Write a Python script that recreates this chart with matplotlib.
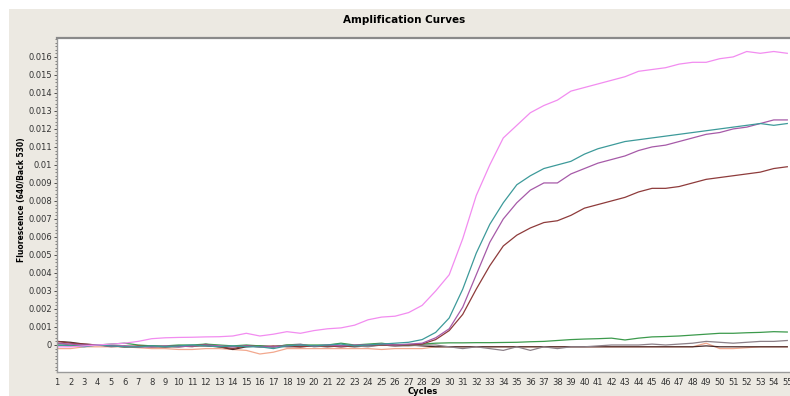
import matplotlib
matplotlib.use("Agg")
import matplotlib.pyplot as plt
from matplotlib.patches import Rectangle
from matplotlib.ticker import MultipleLocator, AutoMinorLocator, FuncFormatter

cycles = list(range(1, 56))
y_ticks = [i / 1000 for i in range(0, 17)]

pink = [-0.0001, -0.0001, -0.00005, 0.0, 0.00005, 0.0001, 0.0002, 0.00035, 0.0004, 0.00042,
        0.00043, 0.00045, 0.00046, 0.0005, 0.00065, 0.0005, 0.0006, 0.00074, 0.00065, 0.0008,
        0.0009, 0.00095, 0.0011, 0.0014, 0.00155, 0.0016, 0.0018, 0.0022, 0.003, 0.0039,
        0.0059, 0.0083, 0.0100, 0.0115, 0.0122, 0.0129, 0.0133, 0.0136, 0.0141, 0.0143,
        0.0145, 0.0147, 0.0149, 0.0152, 0.0153, 0.0154, 0.0156, 0.0157, 0.0157, 0.0159,
        0.0160, 0.0163, 0.0162, 0.0163, 0.0162]

teal = [0.0, -0.00005, -0.0001, 0.0, -0.00005, -0.0001, -0.0001, -0.00005, -0.0001, -0.00005,
        0.0, -0.00005, -0.0001, -0.00005, -0.0001, -0.0001, -0.0002, -0.00005, 0.0, -0.00005,
        0.0, 0.00005, -0.00005, 0.0, 0.00005, 0.0001, 0.00015, 0.0003, 0.0007, 0.0015,
        0.0031, 0.0051, 0.0067, 0.0079, 0.0089, 0.0094, 0.0098, 0.0100, 0.0102, 0.0106,
        0.0109, 0.0111, 0.0113, 0.0114, 0.0115, 0.0116, 0.0117, 0.0118, 0.0119, 0.0120,
        0.0121, 0.0122, 0.0123, 0.0122, 0.0123]

purple = [0.0001, 0.00005, 0.0, 0.0, -0.00005, -0.00005, -0.0001, -0.0001, -0.00005, -0.0001,
          -0.00005, 0.0, -0.00005, -0.0001, -0.00005, -0.0001, -0.0001, -0.00005, 0.0, -0.00005,
          0.0, -0.00005, 0.0, 0.0, 0.00005, 0.0, 0.00005, 0.0001, 0.0004, 0.0009,
          0.0021, 0.0039, 0.0057, 0.0070, 0.0079, 0.0086, 0.0090, 0.0090, 0.0095, 0.0098,
          0.0101, 0.0103, 0.0105, 0.0108, 0.0110, 0.0111, 0.0113, 0.0115, 0.0117, 0.0118,
          0.0120, 0.0121, 0.0123, 0.0125, 0.0125]

brown = [0.0002, 0.0001, 0.00005, 0.0, -0.00005, -0.0001, -0.00005, -0.0001, -0.0001, -0.00005,
         -0.00005, 0.0, -0.0001, -0.0002, -0.00005, -0.0001, -0.00005, -0.0001, -0.0001, -0.00005,
         -0.00005, -0.0001, -0.00005, 0.0, 0.0, 0.0, 0.0, 0.00005, 0.0003, 0.0008,
         0.0017, 0.0031, 0.0044, 0.0055, 0.0061, 0.0065, 0.0068, 0.0069, 0.0072, 0.0076,
         0.0078, 0.0080, 0.0082, 0.0085, 0.0087, 0.0087, 0.0088, 0.0090, 0.0092, 0.0093,
         0.0094, 0.0095, 0.0096, 0.0098, 0.0099]

green = [0.0, -0.00005, 0.0, 0.0, 0.00005, 0.0001, 0.0, -0.00005, -0.00005, 0.0,
         0.0, 0.00005, 0.0, -0.00005, 0.0, -0.00005, -0.0001, 0.0, 0.0, 0.0,
         0.0, 0.0001, 0.0, 0.00005, 0.0001, 0.0, 0.0, 0.00005, 0.0001, 0.00012,
         0.00012, 0.00013, 0.00013, 0.00014, 0.00015, 0.00018, 0.0002, 0.00025, 0.0003, 0.00033,
         0.00035, 0.00038, 0.00028, 0.00038, 0.00045, 0.00047, 0.0005, 0.00055, 0.0006, 0.00065,
         0.00065, 0.00068, 0.0007, 0.00074, 0.00072]

grey = [0.0001, 0.0, 0.0, 0.0, -0.0001, -0.00005, -0.0001, -0.0001, -0.0001, -0.00005,
        -0.0001, 0.00005, -0.0001, -0.0001, -0.00005, -0.0001, -0.0001, 0.0, 0.00005, -0.0001,
        -0.00005, -0.0001, -0.00005, -0.0001, 0.0, -0.00005, -0.00005, 0.0, 0.0, -0.0001,
        -0.0002, -0.0001, -0.0002, -0.0003, -0.0001, -0.0003, -0.0001, -0.0002, -0.0001, -0.0001,
        -0.00005, 0.0, 0.0, 0.0, 0.00005, 0.0, 0.00005, 0.0001, 0.0002, 0.00015,
        0.0001, 0.00015, 0.0002, 0.0002, 0.00025]

dark = [0.0002, 0.00015, 0.00005, 0.0, -0.00005, -0.0001, -0.0001, -0.00005, -0.0001, -0.0001,
        -0.00005, -0.00005, -0.0001, -0.00025, -0.0001, -0.00005, -0.0001, -0.00005, -0.0001, -0.00005,
        -0.0001, -0.00005, -0.0001, -0.00005, 0.0, -0.00005, 0.0, -0.00005, -0.0001, -0.0001,
        -0.0001, -0.0001, -0.0001, -0.0001, -0.0001, -0.0001, -0.0001, -0.0001, -0.0001, -0.0001,
        -0.0001, -0.0001, -0.0001, -0.0001, -0.0001, -0.0001, -0.0001, -0.0001, -0.00005, -0.0001,
        -0.0001, -0.0001, -0.0001, -0.0001, -0.0001]

salmon = [-0.0002, -0.0002, -0.0001, -0.0001, -0.0001, -0.0001, -0.00015, -0.0002, -0.0002, -0.00025,
          -0.00025, -0.0002, -0.0002, -0.00025, -0.0003, -0.0005, -0.0004, -0.0002, -0.0002, -0.0002,
          -0.0002, -0.0002, -0.0002, -0.0002, -0.00025, -0.0002, -0.0002, -0.0002, -0.0001, -0.0001,
          -0.0001, -0.0001, -0.0001, -0.0001, -0.0001, -0.0001, -0.0001, -0.0001, -0.0001, -0.0001,
          -0.0001, -0.0001, -0.0001, -0.0001, -0.0001, -0.0001, -0.0001, -0.0001, 0.0001, -0.0002,
          -0.0002, -0.00015, -0.0001, -0.0001, -0.0001]

series = [
    (salmon, "#f2a88e"),
    (dark, "#4a2a2a"),
    (grey, "#8c8088"),
    (green, "#3c9a4c"),
    (brown, "#8e3b3b"),
    (purple, "#a65aa8"),
    (teal, "#3d9a9a"),
    (pink, "#f28cf0"),
]

fig = plt.figure(figsize=(7.9, 3.96), dpi=100)
fig.patch.set_facecolor("white")
fig.patches.append(Rectangle((9 / 790, 0), 1, 1 - 9 / 396, transform=fig.transFigure,
                             facecolor="#ece9e2", edgecolor="none", zorder=-10))

ax = fig.add_axes([57 / 790, 1 - 372 / 396, (790 - 57) / 790, (372 - 38) / 396])
ax.set_zorder(5)
ax.set_facecolor("white")
for vals, col in series:
    ax.plot(cycles, vals, color=col, lw=0.9, clip_on=True)

ax.set_xlim(1, 55.2)
ax.set_ylim(-0.0015, 0.01705)
ax.xaxis.set_major_locator(MultipleLocator(1))
ax.set_yticks(y_ticks)
ax.yaxis.set_minor_locator(AutoMinorLocator(5))
ax.yaxis.set_major_formatter(FuncFormatter(
    lambda v, p: "0" if abs(v) < 1e-9 else f"{v:.3f}".rstrip("0")))
ax.tick_params(axis="both", labelsize=6, colors="#333333", length=2, width=0.6, pad=1.5)
ax.tick_params(axis="y", which="minor", length=1.5, width=0.5, colors="#555555")
ax.tick_params(axis="x", length=0, pad=4)

for s in ["left", "bottom"]:
    ax.spines[s].set_color("#9a9a9a")
    ax.spines[s].set_linewidth(1.0)
ax.spines["top"].set_color("#8a8a8a")
ax.spines["top"].set_linewidth(1.6)
ax.spines["right"].set_visible(False)

fig.text(404 / 790, 1 - 20 / 396, "Amplification Curves", ha="center", va="center",
         fontsize=7.5, fontweight="bold")
fig.text(22 / 790, 1 - 200 / 396, "Fluorescence (640/Back 530)", rotation=90,
         ha="center", va="center", fontsize=5.5, fontweight="bold")
fig.text(423 / 790, 1 - 391 / 396, "Cycles", ha="center", va="center",
         fontsize=6, fontweight="bold")

fig.savefig("out.png", dpi=100, facecolor=fig.get_facecolor())
